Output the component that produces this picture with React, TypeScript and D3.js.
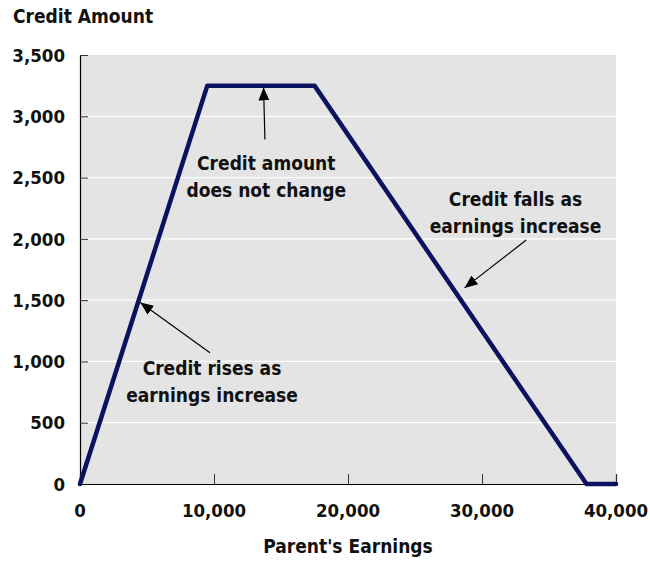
import React, { useEffect, useRef } from "react";
import * as d3 from "d3";

// credit schedule (parent's earnings -> credit)
const earnings = [0, 9500, 17500, 37800, 40000];
const credit = [0, 3250, 3250, 0, 0];

const xTicks = [0, 10000, 20000, 30000, 40000];
const yTicks = [0, 500, 1000, 1500, 2000, 2500, 3000, 3500];

const notes = [
  { lines: ["Credit amount", "does not change"], x: 13900, y: 2560, from: [13800, 2810], to: [13700, 3235] },
  { lines: ["Credit falls as", "earnings increase"], x: 32500, y: 2265, from: [33300, 1990], to: [28700, 1600] },
  { lines: ["Credit rises as", "earnings increase"], x: 9850, y: 890, from: [9700, 1070], to: [4500, 1480] },
];

const App: React.FC = () => {
  const ref = useRef<HTMLDivElement | null>(null);

  useEffect(() => {
    const el = ref.current;
    if (!el) return;
    el.innerHTML = "";
    document.body.style.margin = "0";
    document.body.style.overflow = "hidden";

    const width = 650;
    const height = 562;
    const m = { top: 55, right: 34, bottom: 78, left: 80 };
    const font = "'DejaVu Sans Condensed', 'Liberation Sans Narrow', sans-serif";

    const x = d3.scaleLinear().domain([0, 40000]).range([m.left, width - m.right]);
    const y = d3.scaleLinear().domain([0, 3500]).range([height - m.bottom, m.top]);

    const svg = d3
      .select(el)
      .append("svg")
      .attr("width", width)
      .attr("height", height)
      .style("display", "block")
      .style("font-family", font)
      .style("font-weight", "bold");

    svg
      .append("defs")
      .append("marker")
      .attr("id", "ah")
      .attr("viewBox", "0 0 10 10")
      .attr("refX", 10)
      .attr("refY", 5)
      .attr("markerWidth", 13)
      .attr("markerHeight", 13)
      .attr("markerUnits", "userSpaceOnUse")
      .attr("orient", "auto")
      .append("path")
      .attr("d", "M0,0.8 L10,5 L0,9.2 Z")
      .attr("fill", "#000");

    svg
      .append("rect")
      .attr("x", x(0))
      .attr("y", y(3500))
      .attr("width", x(40000) - x(0))
      .attr("height", y(0) - y(3500))
      .attr("fill", "#e4e4e4");

    // gridlines
    svg
      .append("g")
      .selectAll("line")
      .data(yTicks.filter((d) => d > 0 && d < 3500))
      .join("line")
      .attr("x1", x(0))
      .attr("x2", x(40000))
      .attr("y1", (d) => y(d))
      .attr("y2", (d) => y(d))
      .attr("stroke", "#fff")
      .attr("stroke-width", 1.2);

    // y axis
    const ya = svg
      .append("g")
      .attr("transform", `translate(${x(0)},0)`)
      .call(d3.axisRight(y).tickValues(yTicks).tickSize(8).tickFormat(() => ""));
    ya.select(".domain").attr("stroke", "#000").attr("stroke-width", 1.2);
    ya.selectAll(".tick line").attr("stroke", "#333");

    svg
      .append("g")
      .selectAll("text")
      .data(yTicks)
      .join("text")
      .attr("x", x(0) - 15)
      .attr("y", (d) => y(d))
      .attr("dy", "0.36em")
      .attr("text-anchor", "end")
      .attr("font-size", 18.5)
      .attr("fill", "#111")
      .text((d) => d3.format(",")(d));

    // x axis
    const xa = svg
      .append("g")
      .attr("transform", `translate(0,${y(0)})`)
      .call(d3.axisTop(x).tickValues(xTicks).tickSize(10).tickFormat(() => ""));
    xa.select(".domain").attr("stroke", "#000").attr("stroke-width", 1.2);
    xa.selectAll(".tick line").attr("stroke", "#333");

    svg
      .append("g")
      .selectAll("text")
      .data(xTicks)
      .join("text")
      .attr("x", (d) => x(d))
      .attr("y", y(0) + 33)
      .attr("text-anchor", "middle")
      .attr("font-size", 18.5)
      .attr("fill", "#111")
      .text((d) => d3.format(",")(d));

    svg
      .append("text")
      .attr("x", (x(0) + x(40000)) / 2)
      .attr("y", 553)
      .attr("text-anchor", "middle")
      .attr("font-size", 19)
      .attr("fill", "#111")
      .text("Parent's Earnings");

    svg
      .append("text")
      .attr("x", 13)
      .attr("y", 23)
      .attr("font-size", 19)
      .attr("fill", "#111")
      .text("Credit Amount");

    // the credit line
    const pts = earnings.map((e, i) => [e, credit[i]] as [number, number]);
    svg
      .append("path")
      .attr("d", d3.line<[number, number]>().x((d) => x(d[0])).y((d) => y(d[1]))(pts)!)
      .attr("fill", "none")
      .attr("stroke", "#0b1260")
      .attr("stroke-width", 4.5)
      .attr("stroke-linejoin", "round")
      .attr("stroke-linecap", "round");

    // annotations
    notes.forEach((n) => {
      svg
        .append("line")
        .attr("x1", x(n.from[0]))
        .attr("y1", y(n.from[1]))
        .attr("x2", x(n.to[0]))
        .attr("y2", y(n.to[1]))
        .attr("stroke", "#000")
        .attr("stroke-width", 1.2)
        .attr("marker-end", "url(#ah)");
      const t = svg
        .append("text")
        .attr("x", x(n.x))
        .attr("y", y(n.y))
        .attr("text-anchor", "middle")
        .attr("font-size", 19)
        .attr("fill", "#111");
      n.lines.forEach((l, i) => {
        t.append("tspan").attr("x", x(n.x)).attr("dy", i === 0 ? 0 : 27).text(l);
      });
    });

    return () => {
      d3.select(el).selectAll("*").remove();
    };
  }, []);

  return <div ref={ref} />;
};

export default App;
